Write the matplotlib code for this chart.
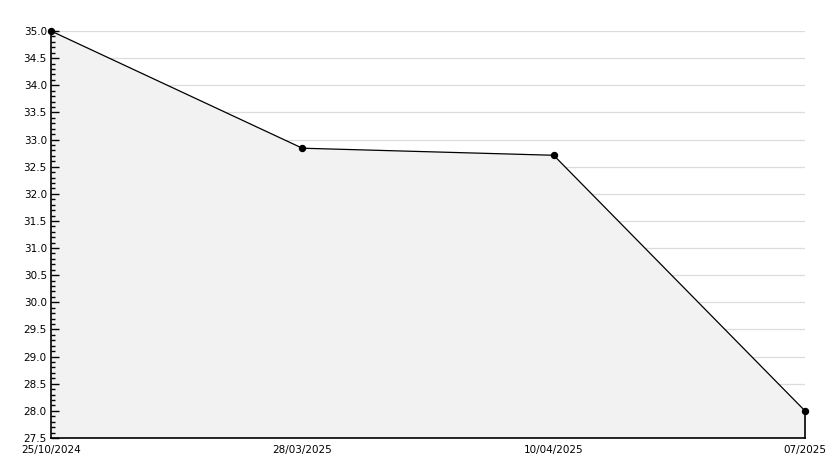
import matplotlib
matplotlib.use("Agg")
import matplotlib.pyplot as plt
from matplotlib.ticker import MultipleLocator, FormatStrFormatter
import numpy as np

labels = ["25/10/2024", "28/03/2025", "10/04/2025", "07/2025"]
values = [35.0, 32.84, 32.71, 28.0]

x = list(range(len(labels)))
ymin, ymax = 27.5, 35.0

fig = plt.figure(figsize=(8.34, 4.68), dpi=100)
ax = fig.add_axes([51/834, 1-438/468, (805-51)/834, (438-31)/468])

for gy in np.arange(ymin + 0.5, ymax + 0.01, 0.5):
    ax.axhline(gy, color="#dcdcdc", linewidth=0.9, zorder=0.5)

ax.fill_between(x, values, ymin, color="#f2f2f2", zorder=1, linewidth=0)
ax.plot(x, values, color="black", linewidth=0.9, marker="o", markersize=4.3, zorder=3, clip_on=False)
ax.plot([x[-1], x[-1]], [values[-1], ymin], color="black", linewidth=1.2, zorder=3, clip_on=False)

ax.set_xlim(0, len(labels) - 1)
ax.set_ylim(ymin, ymax)
ax.set_xticks(x)
ax.set_xticklabels(labels)
ax.yaxis.set_major_locator(MultipleLocator(0.5))
ax.yaxis.set_minor_locator(MultipleLocator(0.1))
ax.yaxis.set_major_formatter(FormatStrFormatter("%.1f"))
ax.set_axisbelow(False)

for s in ["top", "right"]:
    ax.spines[s].set_visible(False)
ax.spines["left"].set_linewidth(1.2)
ax.spines["bottom"].set_linewidth(1.2)

ax.tick_params(axis="y", which="major", direction="in", length=6, width=1, labelsize=7.5, pad=3)
ax.tick_params(axis="y", which="minor", direction="in", length=3, width=1)
ax.tick_params(axis="x", which="major", length=0, labelsize=7.5, pad=5)

fig.savefig("out.png", dpi=100)
